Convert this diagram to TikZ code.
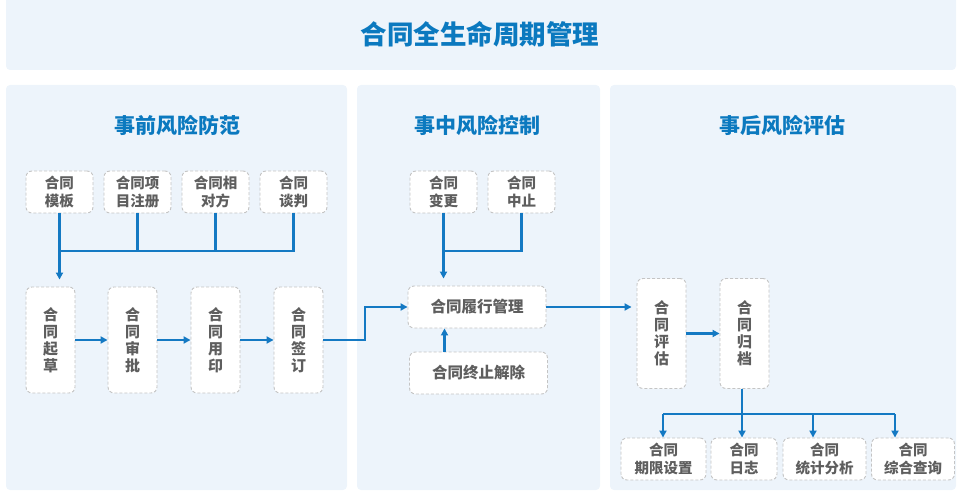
\documentclass[tikz,border=0pt]{standalone}
\usepackage{fontspec}
\setmainfont{Noto Sans CJK SC}
\usetikzlibrary{arrows.meta}
\definecolor{panelbg}{HTML}{EDF4FB}
\definecolor{ttl}{HTML}{0B79BF}
\definecolor{lnc}{HTML}{1479C3}
\definecolor{bd}{HTML}{C4C4C4}
\definecolor{txt}{HTML}{5E5E5E}
\tikzset{
 panel/.style={fill=panelbg, draw=none, rounded corners=4pt},
 maintitle/.style={text=ttl, font=\bfseries\fontsize{26.5}{30}\selectfont, inner sep=0pt},
 ptitle/.style={text=ttl, font=\bfseries\fontsize{21}{24}\selectfont, inner sep=0pt},
 box/.style={draw=bd, dash pattern=on 3pt off 2pt, fill=white, rounded corners=6pt, line width=0.9pt, text=txt, font=\bfseries\fontsize{14.5}{18}\selectfont, align=center, inner sep=0pt},
 sbox/.style={box, minimum width=67pt, minimum height=42pt},
 vbox/.style={box, minimum width=49pt, minimum height=106pt, font=\bfseries\fontsize{15}{17}\selectfont},
 wbox/.style={box, minimum width=138pt, minimum height=42pt, font=\bfseries\fontsize{15.5}{18}\selectfont},
 line/.style={draw=lnc, line width=2.1pt},
 arr/.style={line, -{Triangle[length=7pt,width=7pt]}},
}
\begin{document}
\begin{tikzpicture}[x=1pt,y=-1pt]
\useasboundingbox (0,0) rectangle (962,492);
% backgrounds
\fill[panel] (6,-6) rectangle (956,70);
\fill[panel] (6,85) rectangle (347,490);
\fill[panel] (357,85) rectangle (600,490);
\fill[panel] (610,85) rectangle (956,490);
\node[maintitle] (title) at (480,34) {合同全生命周期管理};
\node[ptitle] (t1) at (177,125) {事前风险防范};
\node[ptitle] (t2) at (477,125) {事中风险控制};
\node[ptitle] (t3) at (782,125) {事后风险评估};
% left panel
\node[sbox] (tpl) at (59.5,192) {合同\\模板};
\node[sbox] (reg) at (137.5,192) {合同项\\目注册};
\node[sbox] (cp) at (215.5,192) {合同相\\对方};
\node[sbox] (neg) at (293.5,192) {合同\\谈判};
\node[vbox] (draft) at (50.5,340) {合\\同\\起\\草};
\node[vbox] (appr) at (132.5,340) {合\\同\\审\\批};
\node[vbox] (seal) at (215.5,340) {合\\同\\用\\印};
\node[vbox] (sign) at (298.5,340) {合\\同\\签\\订};
\coordinate (jL) at (59.5,251);
\draw[line] (neg.south) |- (jL);
\draw[line] (reg.south) -- (reg.south |- jL);
\draw[line] (cp.south) -- (cp.south |- jL);
\draw[arr, shorten >=7pt] (tpl.south) -- (tpl.south |- draft.north);
\draw[arr] (draft.east) -- (appr.west);
\draw[arr] (appr.east) -- (seal.west);
\draw[arr] (seal.east) -- (sign.west);
% middle panel
\node[sbox] (chg) at (443.5,192) {合同\\变更};
\node[sbox] (stp) at (521.5,192) {合同\\中止};
\node[wbox] (perf) at (477,307) {合同履行管理};
\node[wbox] (term) at (478.5,373) {合同终止解除};
\coordinate (jM) at (443.5,251);
\draw[line] (stp.south) |- (jM);
\draw[arr, shorten >=7pt] (chg.south) -- (chg.south |- perf.north);
\draw[arr] ([xshift=-34pt]term.north) -- ([xshift=-34pt]term.north |- perf.south);
\coordinate (turn) at (365,340);
\draw[arr] (sign.east) -- (turn) |- (perf.west);
% right panel
\node[vbox, minimum height=110pt] (eval) at (661.5,333.5) {合\\同\\评\\估};
\node[vbox, minimum height=110pt] (arch) at (744.5,333.5) {合\\同\\归\\档};
\node[sbox, minimum width=85pt] (b1) at (663.5,459) {合同\\期限设置};
\node[sbox, minimum width=66pt] (b2) at (744,459) {合同\\日志};
\node[sbox, minimum width=83pt] (b3) at (824.5,459) {合同\\统计分析};
\node[sbox, minimum width=83pt] (b4) at (913,459) {合同\\综合查询};
\draw[arr, shorten >=5pt] (perf.east) -- (perf.east -| eval.west);
\draw[arr] (eval.east) -- (arch.west);
\coordinate (a1) at (663,414);
\coordinate (a2) at (742,414);
\coordinate (a3) at (813,414);
\coordinate (a4) at (895,414);
\draw[line] (arch.south -| a2) -- (a2);
\draw[line] (a1) -- (a4);
\draw[arr] (a1) -- (a1 |- b1.north);
\draw[arr] (a2) -- (a2 |- b2.north);
\draw[arr] (a3) -- (a3 |- b3.north);
\draw[arr] (a4) -- (a4 |- b4.north);
\end{tikzpicture}
\end{document}
